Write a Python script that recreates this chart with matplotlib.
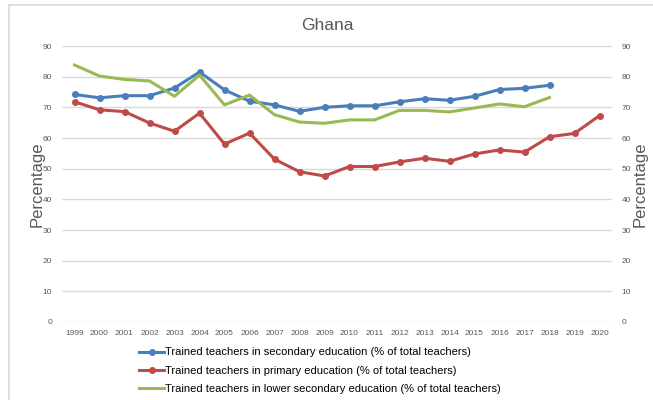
import matplotlib
matplotlib.use('Agg')
import matplotlib.pyplot as plt
import matplotlib.patches as patches

# data
years = [str(y) for y in range(1999, 2021)]
secondary = [74.2, 73.1, 73.8, 73.8, 76.3, 81.5, 75.7, 72.0, 70.8, 68.7, 70.0,
             70.5, 70.5, 71.8, 72.8, 72.3, 73.6, 75.8, 76.2, 77.2]
primary = [71.8, 69.2, 68.6, 64.9, 62.2, 68.1, 58.0, 61.6, 53.1, 49.0, 47.6,
           50.7, 50.7, 52.2, 53.4, 52.4, 54.8, 56.1, 55.4, 60.4, 61.5, 67.3]
lower_secondary = [83.8, 80.2, 79.1, 78.6, 73.6, 80.5, 70.8, 74.0, 67.6, 65.2, 64.8,
                   65.9, 65.9, 69.0, 69.0, 68.5, 69.8, 71.1, 70.2, 73.2]
labels = ['Trained teachers in secondary education (% of total teachers)',
          'Trained teachers in primary education (% of total teachers)',
          'Trained teachers in lower secondary education (% of total teachers)']
yticks = list(range(0, 100, 10))

plt.rcParams['font.family'] = ['Liberation Sans Narrow', 'Liberation Sans', 'DejaVu Sans']
grey = '#595959'

fig = plt.figure(figsize=(6.53, 4.0), dpi=100)
# chart border like the excel chart area
fig.patches.append(patches.Rectangle((9/653, -0.1), 1.0, 1.1 - 5/400, transform=fig.transFigure,
                                     fill=False, edgecolor='#D9D9D9', linewidth=1.2))

ax = fig.add_axes([62/653, 1 - 322/400, 550/653, 276/400])
x = list(range(len(years)))

ax.plot(x[:len(secondary)], secondary, color='#4A7EBB', lw=2.2, marker='o', ms=4, label=labels[0])
ax.plot(x[:len(primary)], primary, color='#BE4B48', lw=2.2, marker='o', ms=4, label=labels[1])
ax.plot(x[:len(lower_secondary)], lower_secondary, color='#98B954', lw=2.2, label=labels[2])

ax.set_xlim(-0.5, len(years) - 0.5)
ax.set_ylim(0, 90)
ax.set_yticks(yticks)
ax.set_xticks(x)
ax.set_xticklabels(years)
ax.grid(axis='y', color='#D9D9D9', lw=1)
ax.set_axisbelow(True)
for s in ax.spines.values():
    s.set_visible(False)
ax.tick_params(length=0, labelsize=6, colors=grey, pad=7)
ax.tick_params(axis='x', pad=6)
ax.set_ylabel('Percentage', fontsize=12, color=grey, labelpad=-1)

ax2 = ax.twinx()
ax2.set_ylim(0, 90)
ax2.set_yticks(yticks)
for s in ax2.spines.values():
    s.set_visible(False)
ax2.tick_params(length=0, labelsize=6, colors=grey, pad=7)
ax2.set_ylabel('Percentage', fontsize=12, color=grey, labelpad=1)

fig.text(327/653, 1 - 25/400, 'Ghana', ha='center', va='center', fontsize=12.5, color=grey)

ax.legend(loc='upper left', bbox_to_anchor=(135/653, 1 - 343/400), bbox_transform=fig.transFigure,
          frameon=False, fontsize=8, handlelength=2.2, handletextpad=0.1,
          labelspacing=0.75, borderaxespad=0)

fig.savefig('out.png', dpi=100)
